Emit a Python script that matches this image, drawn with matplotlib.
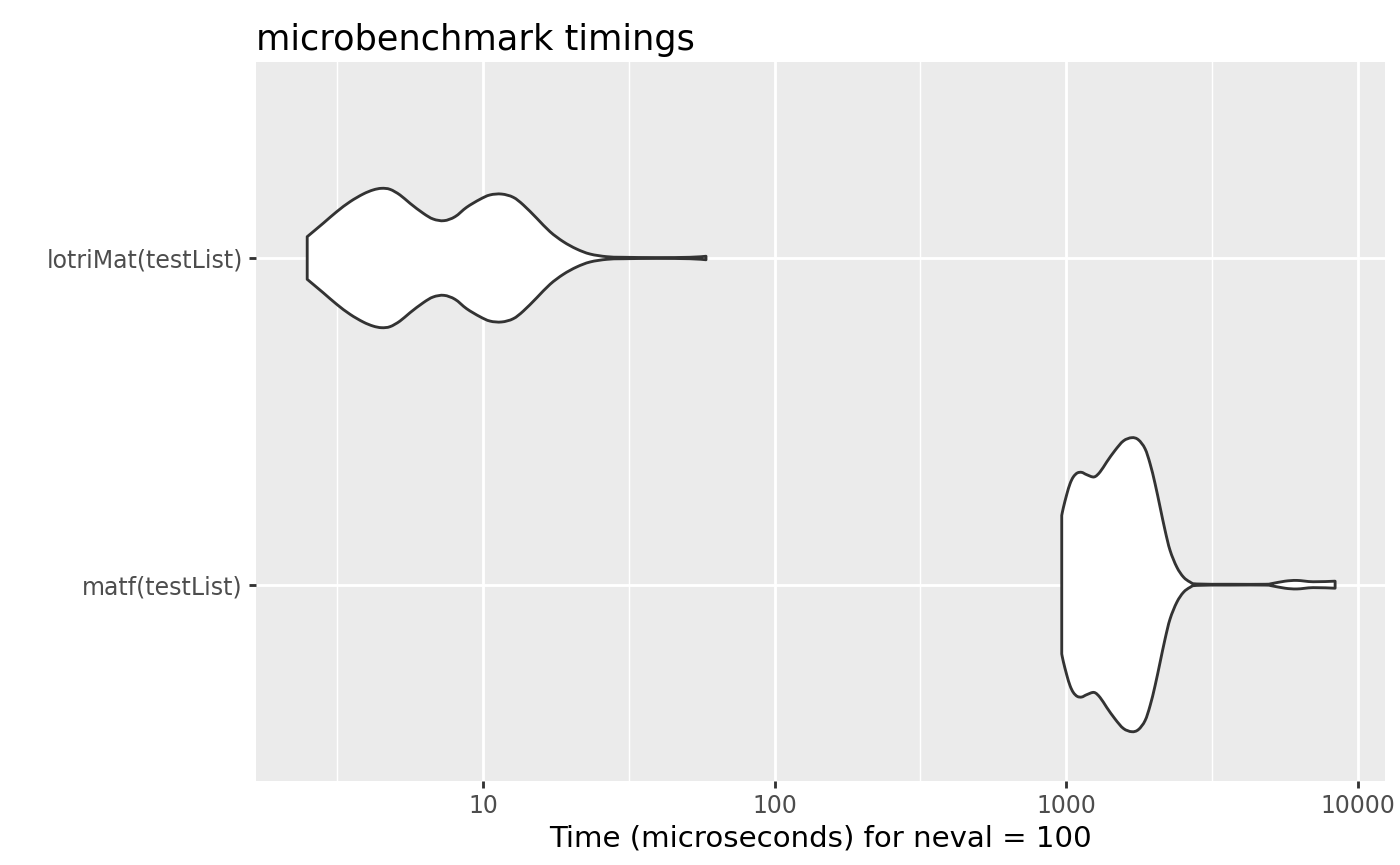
import numpy as np
import matplotlib
matplotlib.use("Agg")
import matplotlib.pyplot as plt
from matplotlib.path import Path
from matplotlib.patches import PathPatch
from matplotlib.ticker import FixedLocator, FixedFormatter, NullFormatter

# benchmark expressions (top to bottom)
CATEGORIES = ["lotriMat(testList)", "matf(testList)"]

# violin outlines: time (microseconds) and relative density
LOTRI_TIME = [2.495, 2.83, 3.15, 3.50, 3.88, 4.20, 4.49, 4.80, 5.19, 5.62,
              6.24, 6.75, 7.35, 8.02, 8.79, 9.76, 10.57, 11.59, 12.7, 13.75,
              15.3, 16.98, 18.86, 20.96, 23.3, 26.6, 30.3, 39.4, 51.3, 58.2]
LOTRI_DENS = [0.145, 0.236, 0.315, 0.383, 0.435, 0.463, 0.474, 0.467, 0.429, 0.372,
              0.304, 0.265, 0.254, 0.281, 0.345, 0.399, 0.429, 0.435, 0.413, 0.361,
              0.270, 0.179, 0.111, 0.061, 0.027, 0.009, 0.005, 0.003, 0.005, 0.012]

MATF_TIME = [966.5, 979, 1005.5, 1032, 1059, 1093, 1132, 1178, 1248, 1308,
             1379, 1473, 1573, 1680, 1770, 1866, 1942, 2020, 2101, 2186,
             2274, 2398, 2527, 2664, 2808, 3652, 4816, 5089, 5640, 6201,
             7036, 8373]
MATF_DENS = [0.471, 0.524, 0.614, 0.687, 0.733, 0.760, 0.764, 0.748, 0.733, 0.767,
             0.835, 0.914, 0.978, 1.0, 0.986, 0.925, 0.823, 0.687, 0.529, 0.369,
             0.233, 0.120, 0.052, 0.018, 0.005, 0.003, 0.003, 0.008, 0.024, 0.029,
             0.020, 0.024]

X_BREAKS = [10, 100, 1000, 10000]
X_LABELS = ["10", "100", "1000", "10000"]

TITLE = "microbenchmark timings"
XLABEL = "Time (microseconds) for neval = 100"

BG = "#EBEBEB"
EDGE = "#333333"
LW = 2.05


def bezier_through(P):
    # catmull-rom -> cubic bezier control points, returns verts after P[0]
    ext = np.vstack([P[0], P, P[-1]])
    verts = []
    for i in range(len(P) - 1):
        p0, p1, p2, p3 = ext[i], ext[i + 1], ext[i + 2], ext[i + 3]
        verts += [p1 + (p2 - p0) / 6, p2 - (p3 - p1) / 6, p2]
    return verts


def draw_violin(ax, pos, times, dens, max_half=0.45):
    lt = np.log10(np.asarray(times, dtype=float))
    d = np.asarray(dens, dtype=float) * max_half
    top = np.column_stack([lt, pos + d])
    bot = np.column_stack([lt[::-1], (pos - d)[::-1]])

    verts = [top[0]]
    codes = [Path.MOVETO]
    v = bezier_through(top)
    verts += v
    codes += [Path.CURVE4] * len(v)
    verts.append(bot[0])
    codes.append(Path.LINETO)
    v = bezier_through(bot)
    verts += v
    codes += [Path.CURVE4] * len(v)
    verts.append(top[0])
    codes.append(Path.CLOSEPOLY)

    verts = np.array(verts)
    verts[:, 0] = 10 ** verts[:, 0]
    patch = PathPatch(Path(verts, codes), facecolor="white", edgecolor=EDGE,
                      linewidth=LW, joinstyle="round", zorder=3)
    ax.add_patch(patch)


def main():
    fig = plt.figure(figsize=(14, 8.65), dpi=100)
    ax = fig.add_axes([256 / 1400, 1 - 780.7 / 865, (1385 - 256) / 1400, (780.7 - 62) / 865])
    ax.set_facecolor(BG)
    for s in ax.spines.values():
        s.set_visible(False)

    ax.set_xscale("log")
    ax.set_xlim(1.665, 12417)
    ax.set_ylim(0.4, 2.6)

    n = len(CATEGORIES)
    positions = [n - i for i in range(n)]
    draw_violin(ax, positions[0], LOTRI_TIME, LOTRI_DENS)
    draw_violin(ax, positions[1], MATF_TIME, MATF_DENS)

    # grid like ggplot theme_grey
    minor = [10 ** (np.log10(b) - 0.5) for b in X_BREAKS]
    for m in minor:
        ax.axvline(m, color="white", linewidth=1.02, zorder=1)
    for b in X_BREAKS:
        ax.axvline(b, color="white", linewidth=LW, zorder=1)
    for p in positions:
        ax.axhline(p, color="white", linewidth=LW, zorder=1)

    ax.xaxis.set_major_locator(FixedLocator(X_BREAKS))
    ax.xaxis.set_major_formatter(FixedFormatter(X_LABELS))
    ax.xaxis.set_minor_locator(FixedLocator([]))
    ax.xaxis.set_minor_formatter(NullFormatter())
    ax.set_yticks(positions)
    ax.set_yticklabels(CATEGORIES)

    ax.tick_params(axis="both", which="major", length=5.3, width=LW, color=EDGE,
                   labelcolor="#4D4D4D", labelsize=17, pad=4.2)

    ax.set_xlabel(XLABEL, fontsize=21.1, color="black", labelpad=4.6)
    ax.set_title(TITLE, loc="left", fontsize=25.3, color="black", pad=9)

    fig.savefig("out.png", dpi=100, facecolor="white")
    plt.close(fig)


if __name__ == "__main__":
    main()
